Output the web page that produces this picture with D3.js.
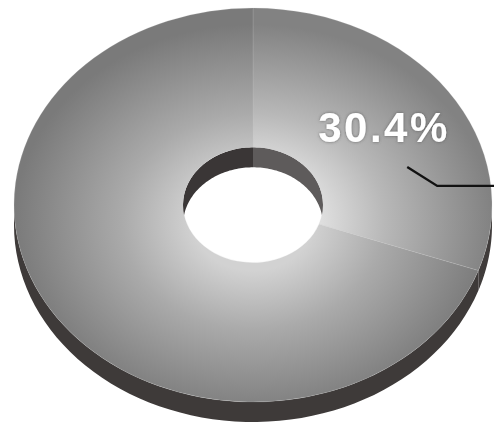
<!DOCTYPE html>
<html><head><meta charset="utf-8">
<script src="https://cdn.jsdelivr.net/npm/d3@7"></script>
<style>html,body{margin:0;padding:0;background:#fff;}svg{display:block;}</style>
</head><body>
<script>
const categories = ["A", "B"];
const values = [30.4, 69.6];
const labels = ["30.4%", ""];

(function () {
const W = 494, H = 427;
const cx = 253, cy = 205, rx = 239, ry = 197, rIn = 70, depth = 20;
const k = ry / rx;

const svg = d3.select("body").append("svg").attr("width", W).attr("height", H);
const defs = svg.append("defs");

const gradStops = [
  [[0.25, "#e4e4e4"], [0.55, "#b8b8b8"], [1, "#828282"]],
  [[0.25, "#d2d2d2"], [0.55, "#aaaaaa"], [1, "#7a7a7a"]]
];
gradStops.forEach((st, i) => {
  const g = defs.append("radialGradient").attr("id", "g" + i)
    .attr("gradientUnits", "userSpaceOnUse").attr("cx", 0).attr("cy", 20).attr("r", rx);
  st.forEach(s => g.append("stop").attr("offset", s[0]).attr("stop-color", s[1]));
});
const f = defs.append("filter").attr("id", "sh").attr("x", "-20%").attr("y", "-30%").attr("width", "140%").attr("height", "160%");
f.append("feDropShadow").attr("dx", 0).attr("dy", 0).attr("stdDeviation", 1.4).attr("flood-color", "#444").attr("flood-opacity", 0.7);

const pie = d3.pie().sort(null).value(d => d)(values);

const pt = (a, r, dy) => [cx + r * Math.sin(a), cy - r * k * Math.cos(a) + (dy || 0)];
function wallPath(a0, a1, r) {
  const n = 60, up = [], dn = [];
  for (let i = 0; i <= n; i++) {
    const a = a0 + (a1 - a0) * i / n;
    up.push(pt(a, r, 0));
    dn.push(pt(a, r, depth));
  }
  return d3.line()(up.concat(dn.reverse())) + "Z";
}

const outerCols = ["#403c3b", "#3e3a39"];
pie.forEach((d, i) => {
  const a0 = Math.max(d.startAngle, Math.PI / 2), a1 = Math.min(d.endAngle, 3 * Math.PI / 2);
  if (a1 > a0) svg.append("path").attr("d", wallPath(a0, a1, rx)).attr("fill", outerCols[i]);
});

const arc = d3.arc().innerRadius(rIn).outerRadius(rx);
const face = svg.append("g").attr("transform", `translate(${cx},${cy}) scale(1,${k})`);
face.selectAll("path").data(pie).join("path")
  .attr("d", arc).attr("fill", (d, i) => `url(#g${i})`)
  .attr("stroke", "rgba(200,200,200,0.35)").attr("stroke-width", 0.6);

defs.append("clipPath").attr("id", "hole").append("ellipse")
  .attr("cx", cx).attr("cy", cy).attr("rx", rIn).attr("ry", rIn * k);
const innerCols = ["#5e5b5b", "#3a3636"];
const inner = svg.append("g").attr("clip-path", "url(#hole)");
pie.forEach((d, i) => {
  const segs = [[d.startAngle, d.endAngle], [d.startAngle - 2 * Math.PI, d.endAngle - 2 * Math.PI]];
  segs.forEach(s => {
    const a0 = Math.max(s[0], -Math.PI / 2), a1 = Math.min(s[1], Math.PI / 2);
    if (a1 > a0) inner.append("path").attr("d", wallPath(a0, a1, rIn)).attr("fill", innerCols[i]);
  });
});

const d0 = pie[0];
const la = d0.startAngle + (d0.endAngle - d0.startAngle) * 0.67;
const p1 = pt(la, 161), p2 = [p1[0] + 30, p1[1] + 19], p3 = [W, p1[1] + 19];
svg.append("path").attr("d", d3.line()([p1, p2, p3]))
  .attr("fill", "none").attr("stroke", "#111").attr("stroke-width", 2.4);
svg.append("text").attr("x", 384).attr("y", 142).attr("text-anchor", "middle")
  .attr("font-family", "Liberation Sans, Arial, sans-serif").attr("font-weight", "bold")
  .attr("font-size", 42).attr("letter-spacing", 2.5).attr("fill", "#fff").attr("filter", "url(#sh)")
  .text(labels[0]);
})();
</script>
</body></html>
